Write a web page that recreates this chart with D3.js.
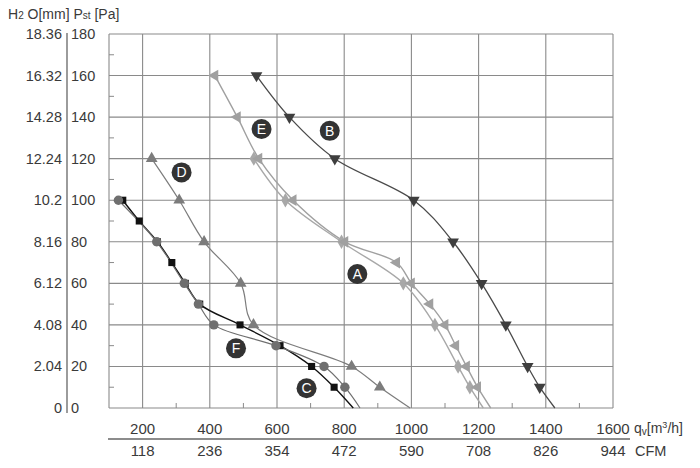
<!DOCTYPE html>
<html><head><meta charset="utf-8">
<script src="https://cdn.jsdelivr.net/npm/d3@7"></script>
<style>
body{margin:0;background:#fff;}
svg{display:block;font-family:"Liberation Sans",Arial,sans-serif;}
</style></head>
<body><svg id="c" width="700" height="468"></svg>
<script>
// ---- data ----
const pressureTicks = [0,20,40,60,80,100,120,140,160,180];
const h2oLabels = ["0","2.04","4.08","6.12","8.16","10.2","12.24","14.28","16.32","18.36"];
const flowTicks = [200,400,600,800,1000,1200,1400,1600];
const cfmLabels = ["118","236","354","472","590","708","826","944"];

// series: [flow m3/h, pressure Pa]
const seriesA = [[531,120],[625,100],[792,80],[976,60],[1070,40],[1139,20],[1174,10],[1214,0]];
const seriesE = [[415,160],[482,140],[546,120],[648,100],[802,80],[956,70],[1000,60],[1055,50],[1100,40],[1132,30],[1164,20],[1197,10],[1236,0]];
const seriesB = [[539,160],[637,140],[772,120],[1007,100],[1124,80],[1209,60],[1281,40],[1346,20],[1382,10],[1427,0]];
const seriesD = [[227,120],[309,100],[383,80],[492,60],[530,40],[822,20],[906,10],[996,0]];
const seriesC = [[141,100],[190,90],[244,80],[287,70],[327,60],[370,50],[490,40],[609,30],[703,20],[770,10],[827,0]];
const seriesF = [[128,100],[242,80],[324,60],[366,50],[412,40],[597,30],[740,20],[802,10],[847,0]];
const curveLabels = [["A",839,64.5],["B",757,133.4],["C",688,9.5],["D",316,113.4],["E",554,134.3],["F",478,28.7]];

// ---- setup ----
const svg = d3.select("#c");
const x = d3.scaleLinear().domain([100,1600]).range([109,613]);
const y = d3.scaleLinear().domain([0,180]).range([408,34]);
const textCol = "#3a3a3a", gridCol = "#8a8a8a";

// grid
const g = svg.append("g");
g.selectAll(".hg").data(pressureTicks).join("line")
  .attr("x1",x(100)).attr("x2",x(1600)).attr("y1",d=>y(d)).attr("y2",d=>y(d))
  .attr("stroke",gridCol).attr("stroke-width",1.1);
g.selectAll(".vg").data([100].concat(flowTicks)).join("line")
  .attr("y1",y(0)).attr("y2",y(180)).attr("x1",d=>x(d)).attr("x2",d=>x(d))
  .attr("stroke",gridCol).attr("stroke-width",1.1);
// minor ticks
const minorY = d3.range(10,180,20);
g.selectAll(".my").data(minorY).join("line")
  .attr("x1",x(100)).attr("x2",x(100)+5).attr("y1",d=>y(d)).attr("y2",d=>y(d))
  .attr("stroke",gridCol).attr("stroke-width",1);
const minorX = d3.range(300,1600,200);
g.selectAll(".mx").data(minorX).join("line")
  .attr("x1",d=>x(d)).attr("x2",d=>x(d)).attr("y1",y(0)).attr("y2",y(0)-5)
  .attr("stroke",gridCol).attr("stroke-width",1);

// left axis
svg.append("line").attr("x1",67).attr("x2",67).attr("y1",y(180)-1).attr("y2",y(0)+5)
  .attr("stroke","#666").attr("stroke-width",1.3);
svg.selectAll(".yl1").data(pressureTicks).join("text")
  .attr("x",62).attr("y",d=>y(d)+5).attr("text-anchor","end")
  .attr("font-size",14.5).attr("fill",textCol).text((d,i)=>h2oLabels[i]);
svg.selectAll(".yl2").data(pressureTicks).join("text")
  .attr("x",71).attr("y",d=>y(d)+5).attr("text-anchor","start")
  .attr("font-size",14.5).attr("fill",textCol).text(d=>d);
const hdr = svg.append("text").attr("x",8).attr("y",19).attr("font-size",14).attr("fill",textCol);
hdr.append("tspan").text("H");
hdr.append("tspan").attr("font-size",10).text("2");
hdr.append("tspan").text(" O[mm]  P");
hdr.append("tspan").attr("font-size",10).text("st");
hdr.append("tspan").text(" [Pa]");

// bottom axis
svg.append("line").attr("x1",108).attr("x2",630).attr("y1",439).attr("y2",439)
  .attr("stroke","#666").attr("stroke-width",1.3);
svg.selectAll(".xl1").data(flowTicks).join("text")
  .attr("x",d=>x(d)).attr("y",434).attr("text-anchor","middle")
  .attr("font-size",15).attr("fill",textCol).text(d=>d);
svg.selectAll(".xl2").data(flowTicks).join("text")
  .attr("x",d=>x(d)).attr("y",456).attr("text-anchor","middle")
  .attr("font-size",15).attr("fill",textCol).text((d,i)=>cfmLabels[i]);
const ql = svg.append("text").attr("x",634).attr("y",433).attr("font-size",14).attr("fill",textCol);
ql.append("tspan").text("q");
ql.append("tspan").attr("font-size",10).attr("dy",2).text("v");
ql.append("tspan").attr("dy",-2).text("[m");
ql.append("tspan").attr("font-size",9).attr("dy",-5).text("3");
ql.append("tspan").attr("dy",5).text("/h]");
svg.append("text").attr("x",635).attr("y",456).attr("font-size",14.5).attr("fill",textCol).text("CFM");

// curves
const line = d3.line().x(d=>x(d[0])).y(d=>y(d[1])).curve(d3.curveCatmullRom.alpha(0.5));
const series = [
  {data:seriesC, col:"#111111", mcol:"#111111", sym:d3.symbolSquare, size:50, rot:0, w:1.4},
  {data:seriesF, col:"#6f6f6f", mcol:"#6f6f6f", sym:d3.symbolCircle, size:70, rot:0, w:1.2},
  {data:seriesD, col:"#7c7c7c", mcol:"#7c7c7c", sym:d3.symbolTriangle, size:60, rot:0, w:1.2},
  {data:seriesA, col:"#a8a8a8", mcol:"#a8a8a8", sym:d3.symbolDiamond, size:60, rot:0, w:1.4},
  {data:seriesE, col:"#a0a0a0", mcol:"#a0a0a0", sym:d3.symbolTriangle, size:60, rot:-90, w:1.4},
  {data:seriesB, col:"#4a4a4a", mcol:"#3e3e3e", sym:d3.symbolTriangle, size:60, rot:180, w:1.3}
];
series.forEach(s=>{
  svg.append("path").datum(s.data).attr("d",line).attr("fill","none")
    .attr("stroke",s.col).attr("stroke-width",s.w);
});
series.forEach(s=>{
  const sy = d3.symbol().type(s.sym).size(s.size);
  svg.append("g").selectAll("path").data(s.data.filter(d=>d[1]>0)).join("path")
    .attr("d",sy).attr("fill",s.mcol)
    .attr("transform",d=>`translate(${x(d[0])},${y(d[1])}) rotate(${s.rot})`);
});

// curve labels
const lg = svg.append("g").selectAll("g").data(curveLabels).join("g")
  .attr("transform",d=>`translate(${x(d[1])},${y(d[2])})`);
lg.append("circle").attr("r",10).attr("fill","#333");
lg.append("text").attr("y",5).attr("text-anchor","middle").attr("font-size",14)
  .attr("fill","#fff").text(d=>d[0]);
</script></body></html>
